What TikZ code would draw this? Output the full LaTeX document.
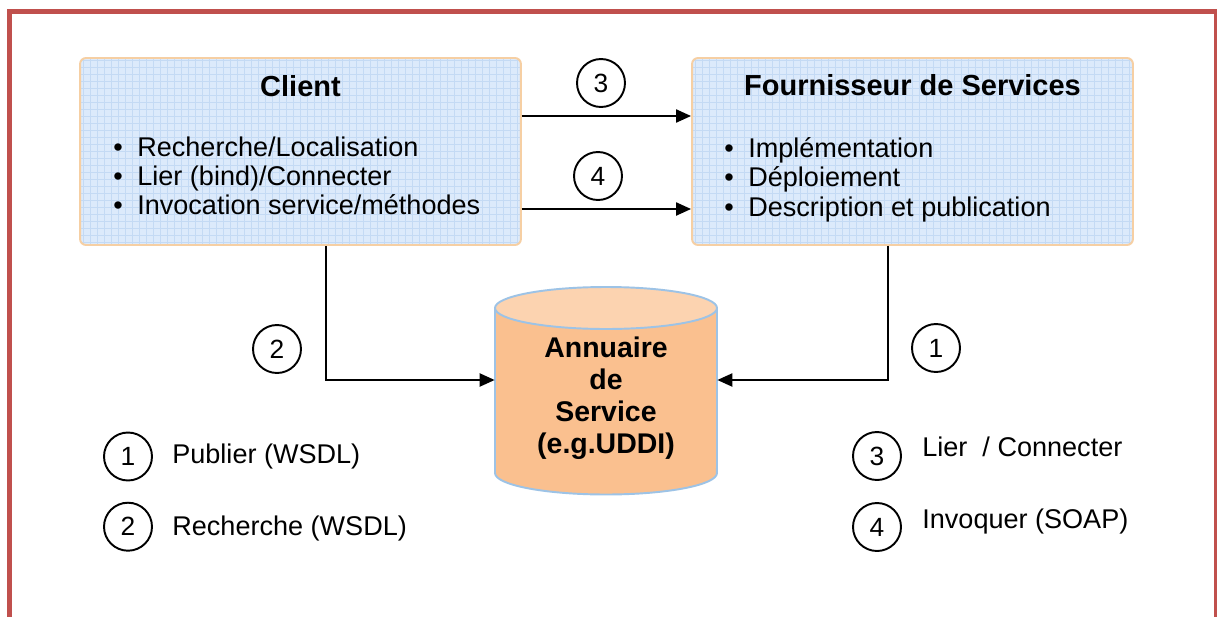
\documentclass[tikz,border=0pt]{standalone}
\usepackage{fontspec}
\setmainfont{Liberation Sans}
\usetikzlibrary{arrows.meta,calc}
\definecolor{framec}{HTML}{C0504D}
\definecolor{boxfill}{HTML}{DCEAFB}
\definecolor{gridc}{HTML}{C4DAF4}
\definecolor{boxborder}{HTML}{F6CFA3}
\definecolor{cylfill}{HTML}{FAC08F}
\definecolor{cyltop}{HTML}{FCD3B0}
\definecolor{cylborder}{HTML}{9DC3E6}
\newcommand\fsz[2]{\fontsize{#1}{#2}\selectfont}
\begin{document}
\begin{tikzpicture}[x=0.02cm,y=-0.02cm,
  gridbox/.style={draw=boxborder, line width=1.1pt, fill=boxfill, rounded corners=0.12cm,
    minimum width=8.82cm, minimum height=3.74cm, inner sep=0pt,
    path picture={\draw[gridc,line width=0.3pt] (path picture bounding box.south west) grid[step=0.14cm] (path picture bounding box.north east);}},
  boxtitle/.style={font=\fsz{16.5}{20}\bfseries, inner sep=0pt, anchor=base},
  item/.style={font=\fsz{15.4}{18}, inner sep=0pt, anchor=base west},
  num/.style={circle, draw, line width=1.1pt, minimum size=0.96cm, inner sep=0pt, font=\fsz{15}{17}},
  legend/.style={font=\fsz{15.4}{18}, inner sep=0pt, anchor=base west},
  arr/.style={line width=1.2pt, -{Triangle[length=0.3cm,width=0.26cm]}},
  cyl/.style={draw=cylborder, line width=1.1pt},
]
\useasboundingbox (0,0) rectangle (1217,616);
\fill[white] (0,0) rectangle (1217,616);
% frame
\draw[framec, line width=0.1cm] (9.5,640) -- (9.5,11.5) -- (1216.5,11.5) -- (1216.5,640);

% boxes
\node[gridbox] (client) at (300.5,151.5) {};
\node[gridbox] (prov) at (912.5,151.5) {};
\node[boxtitle] (clientt) at (300.5,96) {Client};
\node[boxtitle] (provt) at (912.5,95) {Fournisseur de Services};
\node[item] (c1) at (113,156) {\makebox[0.48cm][l]{\textbullet}Recherche/Localisation};
\node[item] (c2) at (113,185.5) {\makebox[0.48cm][l]{\textbullet}Lier (bind)/Connecter};
\node[item] (c3) at (113,214.5) {\makebox[0.48cm][l]{\textbullet}Invocation service/méthodes};
\node[item] (p1) at (724,157) {\makebox[0.48cm][l]{\textbullet}Implémentation};
\node[item] (p2) at (724,186.5) {\makebox[0.48cm][l]{\textbullet}Déploiement};
\node[item] (p3) at (724,216) {\makebox[0.48cm][l]{\textbullet}Description et publication};

% cylinder
\path[fill=cylfill, cyl] (495,308) -- (495,473) arc[start angle=180, end angle=360, x radius=2.22cm, y radius=0.43cm] -- (717,308);
\draw[fill=cyltop, cyl] (606,308) ellipse [x radius=2.22cm, y radius=0.42cm];
\node[minimum width=4.44cm, minimum height=3.3cm, inner sep=0pt, align=center,
  font=\fsz{16.2}{18.2}\bfseries] (db) at (606,398) {Annuaire\\de\\Service\\(e.g.UDDI)};

% connectors
\coordinate (y3) at (0,116);
\coordinate (y4) at (0,209);
\coordinate (ydb) at (0,380);
\coordinate (xc) at (326,0);
\coordinate (xp) at (888,0);
\draw[arr] (client.east |- y3) -- (prov.west |- y3);
\draw[arr] (client.east |- y4) -- (prov.west |- y4);
\draw[arr] (client.south -| xc) |- (db.west |- ydb);
\draw[arr] (prov.south -| xp) |- (db.east |- ydb);

% number circles on connectors
\node[num] (n3) at (601,83) {3};
\node[num] (n4) at (598,176) {4};
\node[num] (n2) at (277,349) {2};
\node[num] (n1) at (936,348) {1};

% legend
\node[num] (l1) at (128,456.5) {1};
\node[num] (l2) at (128,526.7) {2};
\node[num] (l3) at (877,456) {3};
\node[num] (l4) at (877,527) {4};
\node[legend] (t1) at (172,463) {Publier (WSDL)};
\node[legend] (t2) at (172,535) {Recherche (WSDL)};
\node[legend] (t3) at (922,456.5) {Lier\ \ / Connecter};
\node[legend] (t4) at (922,528) {Invoquer (SOAP)};
\end{tikzpicture}
\end{document}
